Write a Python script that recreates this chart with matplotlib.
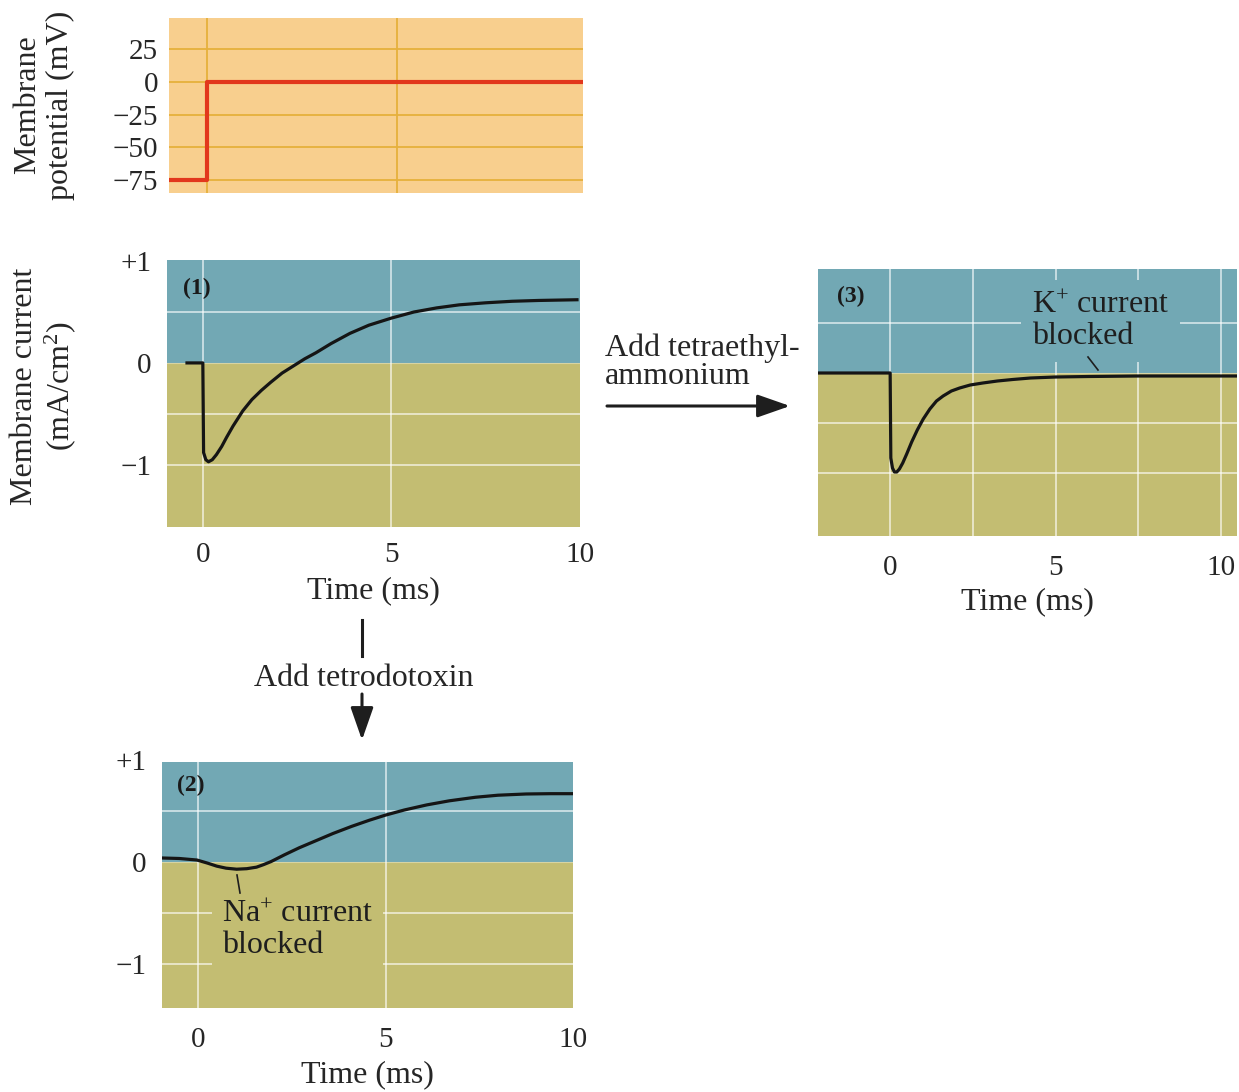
import matplotlib
matplotlib.use("Agg")
import matplotlib.pyplot as plt
from matplotlib.patches import FancyArrowPatch
from matplotlib.lines import Line2D

plt.rcParams["font.family"] = ["Liberation Serif", "DejaVu Serif"]
plt.rcParams["mathtext.fontset"] = "custom"
plt.rcParams["mathtext.rm"] = "Liberation Serif"
plt.rcParams["mathtext.it"] = "Liberation Serif:italic"
plt.rcParams["mathtext.bf"] = "Liberation Serif:bold"

# --- data ---------------------------------------------------------------
# voltage clamp step (mV)
v_time = [-1.0, 0.0, 0.0, 9.9]
v_mem = [-75, -75, 0, 0]
v_ticks = [25, 0, -25, -50, -75]
v_ticklabels = ["25", "0", "\u221225", "\u221250", "\u221275"]

# (1) control membrane current (mA/cm^2)
t_ctrl = [-0.42, 0.0, 0.02, 0.08, 0.15, 0.25, 0.36, 0.5, 0.63, 0.8, 1.06, 1.3, 1.55,
          1.8, 2.1, 2.4, 2.7, 3.0, 3.4, 3.9, 4.4, 5.0, 5.6, 6.2, 6.8, 7.5, 8.2, 8.9, 9.92]
i_ctrl = [0.0, 0.0, -0.88, -0.95, -0.97, -0.95, -0.9, -0.82, -0.73, -0.62, -0.47, -0.36,
          -0.27, -0.19, -0.1, -0.03, 0.04, 0.1, 0.19, 0.29, 0.37, 0.44, 0.5, 0.54, 0.57,
          0.59, 0.605, 0.613, 0.62]

# (2) tetrodotoxin
t_ttx = [-0.97, -0.5, -0.03, 0.25, 0.5, 0.75, 1.03, 1.3, 1.56, 1.75, 1.95, 2.3, 2.7,
         3.15, 3.6, 4.1, 4.57, 5.0, 5.5, 6.1, 6.7, 7.4, 8.0, 8.75, 9.4, 9.97]
i_ttx = [0.04, 0.035, 0.02, -0.01, -0.04, -0.06, -0.07, -0.065, -0.05, -0.025, 0.005,
         0.07, 0.14, 0.21, 0.28, 0.35, 0.41, 0.46, 0.51, 0.56, 0.6, 0.635, 0.655, 0.667,
         0.67, 0.67]

# (3) tetraethylammonium
t_tea = [-2.18, 0.0, 0.02, 0.07, 0.13, 0.2, 0.28, 0.38, 0.5, 0.65, 0.82, 1.0, 1.2, 1.4,
         1.6, 1.85, 2.1, 2.42, 2.8, 3.24, 3.7, 4.24, 5.0, 6.0, 7.5, 9.0, 10.48]
i_tea = [0.0, 0.0, -0.85, -0.95, -0.99, -0.99, -0.96, -0.9, -0.81, -0.69, -0.57, -0.46,
         -0.36, -0.28, -0.23, -0.18, -0.15, -0.12, -0.1, -0.08, -0.065, -0.05, -0.04,
         -0.035, -0.03, -0.03, -0.03]

time_ticks = [0, 5, 10]
time_ticklabels = ["0", "5", "10"]
cur_ticks = [1, 0, -1]
cur_ticklabels = ["+1", "0", "\u22121"]

# --- styles ---------------------------------------------------------------
W, H = 1239, 1092
ORANGE = "#f8cf8e"
GOLD = "#e6b03c"
BLUE = "#72a8b4"
OLIVE = "#c3bd72"
INK = "#262626"
FS = 23
TFS = 21

fig = plt.figure(figsize=(W / 100, H / 100), dpi=100)
fig.patch.set_facecolor("white")


def add_panel(left, top, right, bottom):
    ax = fig.add_axes([left / W, 1 - bottom / H, (right - left) / W, (bottom - top) / H])
    for s in ax.spines.values():
        s.set_visible(False)
    ax.tick_params(length=0, labelsize=TFS, colors=INK)
    return ax


def fpos(x, y):
    return x / W, 1 - y / H


def current_panel(ax, t, i, xlim, ylim, vgrid, hgrid, xpad=12, lpad=7):
    ax.set_xlim(*xlim)
    ax.set_ylim(*ylim)
    ax.axhspan(0, ylim[1], color=BLUE, lw=0, zorder=0)
    ax.axhspan(ylim[0], 0, color=OLIVE, lw=0, zorder=0)
    ax.axhline(0, color="white", lw=0.8, alpha=0.35, zorder=1)
    for g in vgrid:
        ax.axvline(g, color="white", lw=1.3, alpha=0.65, zorder=1)
    for g in hgrid:
        ax.axhline(g, color="white", lw=1.3, alpha=0.65, zorder=1)
    ax.plot(t, i, color="#151515", lw=2.3, zorder=5, solid_joinstyle="round")
    ax.set_xticks(time_ticks)
    ax.set_xticklabels(time_ticklabels)
    ax.tick_params(axis="x", pad=xpad)
    ax.set_xlabel("Time (ms)", fontsize=FS, color=INK, labelpad=lpad)


# voltage panel
axV = add_panel(169, 18, 583, 193)
axV.set_xlim(-1.0, 9.9)
axV.set_ylim(-85, 49)
axV.set_facecolor(ORANGE)
for g in [0, 5]:
    axV.axvline(g, color=GOLD, lw=1.3, zorder=1)
for g in v_ticks:
    axV.axhline(g, color=GOLD, lw=1.3, zorder=1)
axV.plot(v_time, v_mem, color="#e2371c", lw=3.0, zorder=5)
axV.set_xticks([])
axV.set_yticks(v_ticks)
axV.set_yticklabels(v_ticklabels)
axV.tick_params(axis="y", pad=8)

# panel (1)
ax1 = add_panel(167, 260, 580, 527)
current_panel(ax1, t_ctrl, i_ctrl, (-0.95, 9.92), (-1.61, 1.01), [0, 5], [0.5, -0.5, -1],
              xpad=11, lpad=6)
ax1.set_yticks(cur_ticks)
ax1.set_yticklabels(cur_ticklabels)
ax1.tick_params(axis="y", pad=11)

# panel (3)
ax3 = add_panel(818, 269, 1237, 536)
current_panel(ax3, t_tea, i_tea, (-2.18, 10.48), (-1.63, 1.04), [0, 2.5, 5, 7.5, 10],
              [0.5, -0.5, -1], xpad=14, lpad=4)
ax3.set_yticks([])

# panel (2)
ax2 = add_panel(162, 760, 573, 1008)
current_panel(ax2, t_ttx, i_ttx, (-0.96, 9.97), (-1.43, 0.98), [0, 5], [0.5, -0.5, -1],
              xpad=14, lpad=5)
ax2.set_yticks(cur_ticks)
ax2.set_yticklabels(cur_ticklabels)
ax2.tick_params(axis="y", pad=11)

# axis titles
fig.text(*fpos(44, 105), "Membrane\npotential (mV)", rotation=90, ha="center", va="center",
         fontsize=FS, color=INK, multialignment="center", linespacing=1.15)
fig.text(*fpos(44, 386), "Membrane current\n(mA/cm$^2$)", rotation=90, ha="center", va="center",
         fontsize=FS, color=INK, multialignment="center", linespacing=1.15)

# panel numbers
for (x, y), lab in [((183, 288), "(1)"), ((837, 296), "(3)"), ((177, 785), "(2)")]:
    fig.text(*fpos(x, y), lab, ha="left", va="center", fontsize=17, fontweight="bold", color="#1a1a1a")

# blocked-current labels
fig.text(*fpos(1032, 321), "K$^{+}$ current\nblocked", ha="left", va="center", fontsize=FS,
         color="#1e1e1e", linespacing=1.1, zorder=3,
         bbox=dict(boxstyle="square,pad=0.35", fc=BLUE, ec="none"))
fig.text(*fpos(222, 930), "Na$^{+}$ current\nblocked", ha="left", va="center", fontsize=FS,
         color="#1e1e1e", linespacing=1.1, zorder=3,
         bbox=dict(boxstyle="square,pad=0.3", fc=OLIVE, ec="none"))
for xs, ys in [([1088, 1098], [357, 370]), ([237, 240], [875, 893])]:
    fig.add_artist(Line2D([x / W for x in xs], [1 - y / H for y in ys], color="#1e1e1e",
                          lw=1.2, transform=fig.transFigure, zorder=6))

# treatment arrows
fig.text(*fpos(605, 384), "Add tetraethyl-\nammonium", ha="left", va="baseline",
         fontsize=FS, color=INK, linespacing=0.95)
fig.add_artist(FancyArrowPatch(fpos(607, 406), fpos(790, 406), transform=fig.transFigure,
                               arrowstyle="-|>,head_length=1.0,head_width=0.35",
                               shrinkA=0, shrinkB=0,
                               mutation_scale=20, lw=2.2, color="#1e1e1e"))
fig.add_artist(Line2D([362 / W, 362 / W], [1 - 620 / H, 1 - 656 / H], color="#1e1e1e",
                      lw=2.2, transform=fig.transFigure))
fig.text(*fpos(364, 678), "Add tetrodotoxin", ha="center", va="center", fontsize=FS, color=INK)
fig.add_artist(FancyArrowPatch(fpos(362, 694), fpos(362, 740), transform=fig.transFigure,
                               arrowstyle="-|>,head_length=1.0,head_width=0.35",
                               shrinkA=0, shrinkB=0,
                               mutation_scale=20, lw=2.2, color="#1e1e1e"))

fig.savefig("out.png", dpi=100)
